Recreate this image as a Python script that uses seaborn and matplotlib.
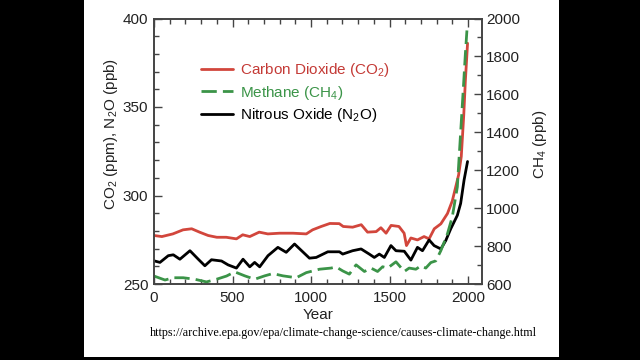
import matplotlib
matplotlib.use("Agg")
import matplotlib.pyplot as plt
from matplotlib.patches import Rectangle
from matplotlib.ticker import MultipleLocator
import pandas as pd
import seaborn as sns

# values
co2_years = [0, 50, 120, 185, 240, 290, 345, 400, 460, 525, 565, 610, 670, 725, 800,
             885, 970, 1010, 1065, 1120, 1180, 1205, 1265, 1320, 1360, 1415, 1445,
             1478, 1510, 1560, 1593, 1608, 1636, 1678, 1720, 1752, 1785, 1827, 1869,
             1900, 1922, 1940, 1957, 1973, 1983, 1997]
co2_ppm = [277.4, 276.8, 278.3, 280.6, 281.2, 279.3, 277.4, 276.4, 276.4, 275.5, 277.8,
           276.8, 279.3, 278.3, 278.7, 278.7, 278.3, 280.6, 282.5, 284.2, 284.1, 282.5,
           282.1, 283.5, 279.3, 279.6, 281.8, 278.7, 283.1, 282.5, 278.7, 271.7, 276.0,
           274.9, 276.8, 275.5, 281.2, 284.0, 289.8, 297.0, 305.0, 311.6, 322.0, 345.8,
           364.8, 386.0]

ch4_years = [0, 70, 123, 186, 260, 334, 398, 462, 514, 578, 641, 705, 757, 821, 906,
             970, 1054, 1128, 1160, 1202, 1244, 1287, 1340, 1382, 1424, 1456, 1488,
             1541, 1594, 1625, 1668, 1700, 1731, 1763, 1795, 1827, 1869, 1900, 1932,
             1943, 1960, 1973, 1983, 1993]
ch4_ppb = [642, 621, 633, 633, 625, 611, 625, 642, 664, 643, 625, 643, 655, 643, 633,
           660, 678, 684, 690, 669, 652, 701, 666, 684, 666, 691, 684, 717, 666, 684,
           678, 696, 684, 713, 722, 776, 865, 955, 1112, 1264, 1494, 1671, 1813, 1937]

n2o_years = [0, 38, 91, 123, 165, 229, 282, 324, 366, 430, 472, 525, 567, 610, 641,
             673, 726, 789, 842, 895, 990, 1033, 1107, 1181, 1202, 1265, 1319, 1371,
             1403, 1435, 1467, 1509, 1541, 1594, 1636, 1678, 1710, 1752, 1784, 1827,
             1858, 1890, 1932, 1953, 1975, 1997]
n2o_ppb = [263.1, 262.2, 266.0, 266.5, 264.0, 268.8, 264.0, 260.3, 263.7, 263.0, 260.8,
           259.0, 264.0, 259.7, 262.2, 259.7, 266.0, 270.7, 267.9, 272.6, 264.6, 265.0,
           268.2, 268.2, 266.9, 268.8, 269.8, 266.9, 265.0, 266.9, 265.0, 271.7, 268.8,
           268.5, 263.5, 270.7, 268.8, 274.9, 271.7, 269.8, 274.5, 281.2, 288.8, 295.5,
           308.8, 319.2]

labels = ["Carbon Dioxide (CO$_2$)", "Methane (CH$_4$)", "Nitrous Oxide (N$_2$O)"]
source = "https://archive.epa.gov/epa/climate-change-science/causes-climate-change.html"

red = "#d2463c"
green = "#3b9448"
dark = "#222222"

sns.set_style("white")
plt.rcParams["font.family"] = ["Liberation Sans", "DejaVu Sans"]
plt.rcParams["mathtext.default"] = "regular"

co2 = pd.DataFrame({"Year": co2_years, "value": co2_ppm})
ch4 = pd.DataFrame({"Year": ch4_years, "value": ch4_ppb})
n2o = pd.DataFrame({"Year": n2o_years, "value": n2o_ppb})

fig = plt.figure(figsize=(6.4, 3.6), dpi=100)
fig.patch.set_facecolor("black")
fig.add_artist(Rectangle((84 / 640, 3 / 360), 475 / 640, 357 / 360,
                         transform=fig.transFigure, facecolor="white",
                         edgecolor="none", zorder=-10))

ax = fig.add_axes([154 / 640, 76 / 360, 328 / 640, 265.5 / 360])
ax2 = ax.twinx()

sns.lineplot(data=co2, x="Year", y="value", ax=ax, color=red, lw=2.0)
sns.lineplot(data=n2o, x="Year", y="value", ax=ax, color="black", lw=2.0)
sns.lineplot(data=ch4, x="Year", y="value", ax=ax2, color=green, lw=2.0)
ax2.lines[0].set_dashes([5.5, 2.2])

ax.set_xlim(0, 2089)
ax.set_ylim(250, 400)
ax2.set_ylim(600, 2000)

ax.xaxis.set_major_locator(MultipleLocator(500))
ax.xaxis.set_minor_locator(MultipleLocator(100))
ax.yaxis.set_major_locator(MultipleLocator(50))
ax.yaxis.set_minor_locator(MultipleLocator(10))
ax2.yaxis.set_major_locator(MultipleLocator(200))
ax2.yaxis.set_minor_locator(MultipleLocator(100))

for a in (ax, ax2):
    for s in a.spines.values():
        s.set_color("#444444")
        s.set_linewidth(1.2)
        s.set_visible(True)
ax.tick_params(axis="x", which="both", direction="in", top=True, bottom=True,
               color="#444444", labelsize=11, labelcolor=dark, pad=5)
ax.tick_params(axis="y", which="both", direction="in", left=True, right=False,
               color="#444444", labelsize=11, labelcolor=dark, pad=4)
ax2.tick_params(axis="y", which="both", direction="in", right=True, left=False,
                color="#444444", labelsize=11, labelcolor=dark, pad=3)
for a in (ax, ax2):
    a.tick_params(which="major", length=6, width=1)
    a.tick_params(which="minor", length=3.5, width=1)

ax.set_xlabel("Year", fontsize=11, color=dark, labelpad=2)
ax.set_ylabel("CO$_2$ (ppm), N$_2$O (ppb)", fontsize=11, color=dark)
ax.yaxis.set_label_coords(-0.105, 0.565)
ax2.set_ylabel("CH$_4$ (ppb)", fontsize=11, color=dark)
ax2.yaxis.set_label_coords(1.149, 0.527)

handles = [ax.lines[0], ax2.lines[0], ax.lines[1]]
ax2.legend(handles, labels, loc="upper left", bbox_to_anchor=(0.1, 0.89),
           frameon=False, fontsize=11, handlelength=2.1, handletextpad=0.5,
           labelspacing=0.28, labelcolor=["#c43a36", green, "black"])

fig.text(150 / 640, 1 - 333 / 360, source, family=["Liberation Serif", "DejaVu Serif"],
         fontsize=8.7, color="black", va="center", ha="left")

fig.savefig("out.png", dpi=100, facecolor=fig.get_facecolor())
